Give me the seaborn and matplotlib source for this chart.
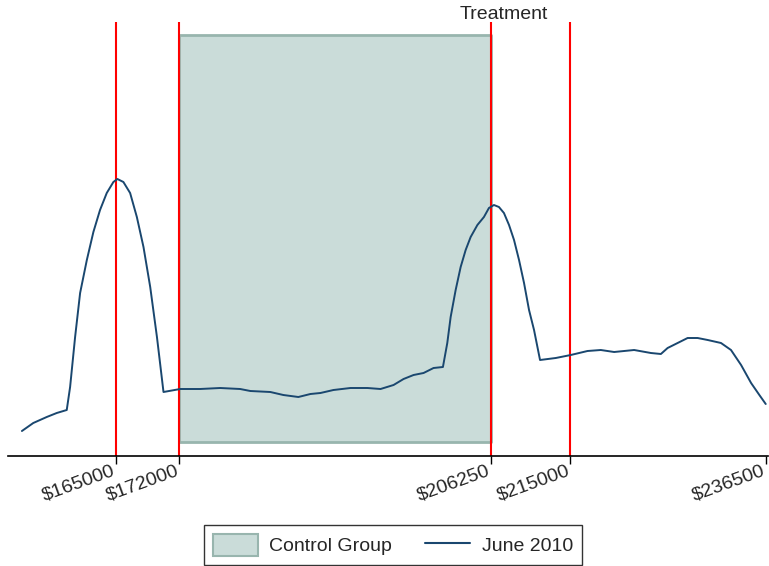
import numpy as np
import pandas as pd
import matplotlib
matplotlib.use("Agg")
import matplotlib.pyplot as plt
import matplotlib.transforms as mtransforms
from matplotlib.patches import Patch
from matplotlib.lines import Line2D
import seaborn as sns

# ---- data ----
price = [154700, 155950, 157430, 158530, 159630, 160000, 160550, 161100, 161840,
         162560, 163290, 164030, 164760, 165200, 165860, 166600, 167340, 168070,
         168810, 169550, 170270, 172110, 174300, 176500, 178700, 179820, 182020,
         183450, 185100, 186430, 187530, 188960, 190830, 192700, 194140, 195570,
         196670, 197770, 198870, 199970, 201000, 201480, 201850, 202400, 202950,
         203500, 204050, 204790, 205510, 206060, 206610, 207160, 207710, 208270,
         208820, 209370, 209920, 210470, 211020, 211680, 213410, 215060, 216900,
         218360, 219830, 222030, 223870, 224970, 225710, 226810, 227910, 229010,
         230120, 231580, 232680, 233790, 234890, 235800, 236500]
density = [25, 33, 39, 43, 46, 69, 119, 163, 196,
           224, 246, 263, 274, 277, 274, 263, 239, 209,
           169, 119, 64, 67, 67, 68, 67, 65, 64,
           61, 59, 62, 63, 66, 68, 68, 67, 71,
           77, 81, 83, 88, 89, 113, 139, 166, 189,
           206, 219, 231, 239, 248, 251, 249, 243, 231,
           216, 196, 173, 146, 126, 96, 98, 101, 105,
           106, 104, 106, 103, 102, 108, 113, 118, 118,
           116, 113, 106, 91, 73, 61, 52]
control_bounds = [172000, 206250]
control_height = [14, 421]
vlines = [165000, 172000, 206250, 215000]
tick_values = [165000, 172000, 206250, 215000, 236500]
tick_labels = ["\\$165000", "\\$172000", "\\$206250", "\\$215000", "\\$236500"]
treatment_x = 206250
series_name = "June 2010"
control_name = "Control Group"

df = pd.DataFrame({"price": price, "density": density})

sns.set_style("white")
plt.rcParams["font.family"] = ["Liberation Sans", "DejaVu Sans"]

fig = plt.figure(figsize=(7.69, 5.66), dpi=100)
ax = fig.add_axes([8 / 769, 1 - 456 / 566, 760 / 769, 434 / 566])

line_col = "#1a476f"
fill_col = "#cadcd9"
edge_col = "#98b5ae"

ax.fill_between(control_bounds, control_height[0], control_height[1],
                facecolor=fill_col, edgecolor=edge_col, linewidth=2, zorder=1)
for v in vlines:
    ax.axvline(v, color="#ff0000", linewidth=1.5, zorder=2)
sns.lineplot(data=df, x="price", y="density", color=line_col, linewidth=1.4,
             ax=ax, zorder=3, sort=True)

ax.set_xlim(153170, 236750)
ax.set_ylim(0, 434)
ax.set_xlabel("")
ax.set_ylabel("")
ax.set_yticks([])
for s in ["left", "right", "top"]:
    ax.spines[s].set_visible(False)
ax.spines["bottom"].set_color("black")
ax.spines["bottom"].set_linewidth(1.2)

ax.set_xticks(tick_values)
ax.set_xticklabels(tick_labels, rotation=20, ha="right", rotation_mode="anchor",
                   fontsize=14)
ax.tick_params(axis="x", direction="out", length=6, width=1, color="black",
               bottom=True, pad=0)
offset = mtransforms.ScaledTranslation(-4 / 100, 2 / 100, fig.dpi_scale_trans)
for lab in ax.get_xticklabels():
    lab.set_transform(lab.get_transform() + offset)

trans = mtransforms.blended_transform_factory(ax.transData, ax.transAxes)
ax.text(treatment_x + 1500, 1 + 3 / 434, "Treatment", transform=trans,
        ha="center", va="baseline", fontsize=14)

handles = [Patch(facecolor=fill_col, edgecolor=edge_col, linewidth=1.5),
           Line2D([0], [0], color=line_col, linewidth=1.5)]
leg = fig.legend(handles, [control_name, series_name], loc="center",
                 bbox_to_anchor=(393 / 769, 1 - 545 / 566), ncol=2, fontsize=14,
                 frameon=True, fancybox=False, edgecolor="black",
                 handlelength=2.3, handleheight=1.4, columnspacing=1.7,
                 borderpad=0.45, handletextpad=0.6, borderaxespad=0)
leg.get_frame().set_linewidth(1.0)

fig.savefig("out.png", dpi=100)
